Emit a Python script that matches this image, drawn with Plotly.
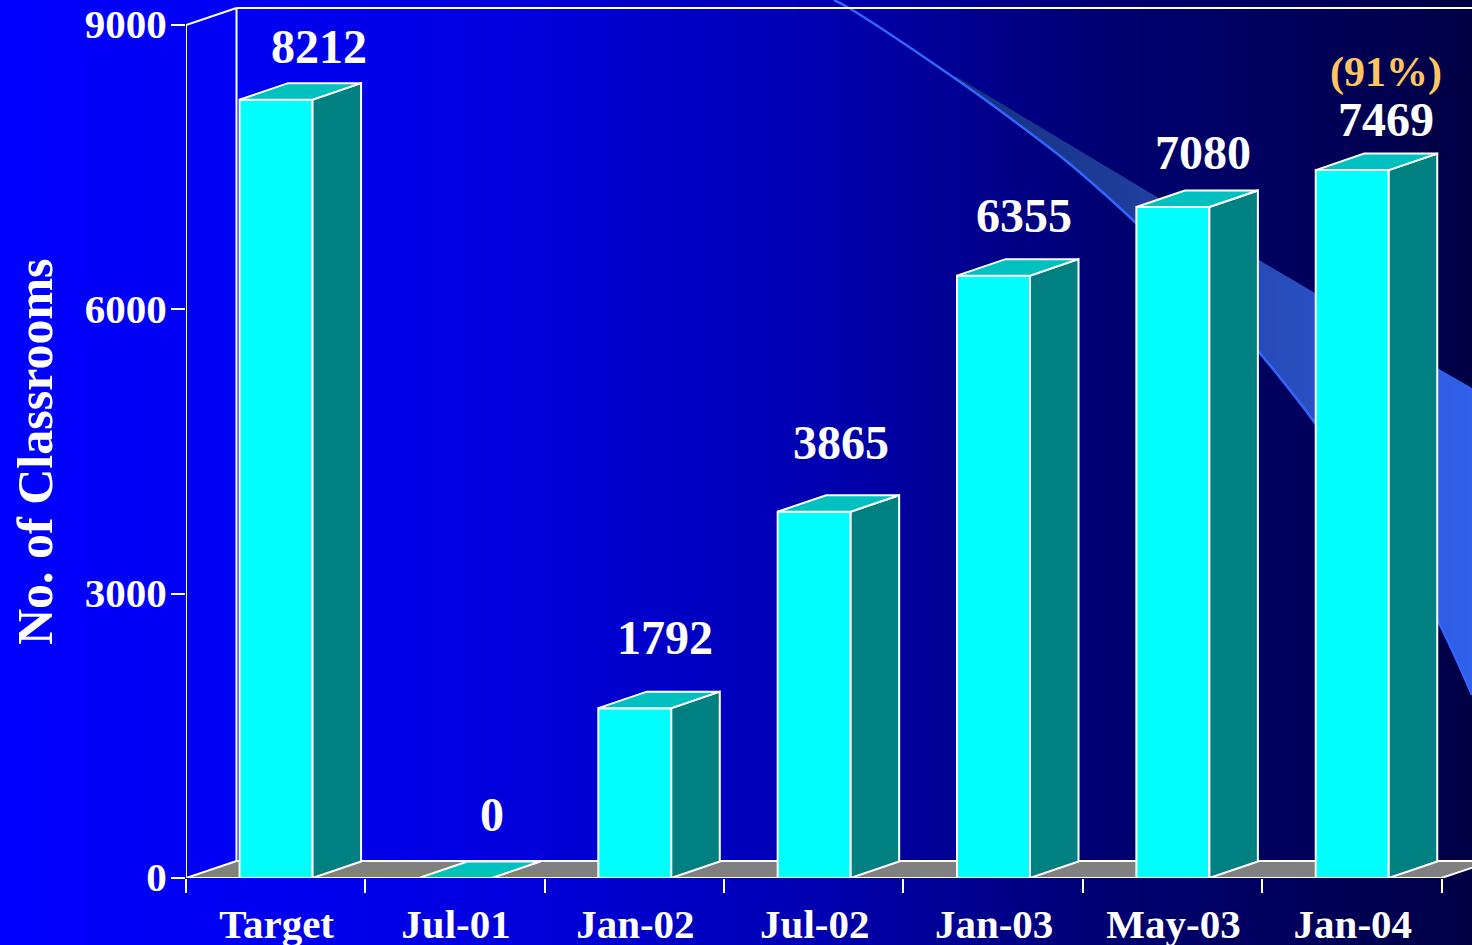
import plotly.graph_objects as go

categories = ["Target", "Jul-01", "Jan-02", "Jul-02", "Jan-03", "May-03", "Jan-04"]
classrooms = [8212, 0, 1792, 3865, 6355, 7080, 7469]
y_ticks = [0, 3000, 6000, 9000]
note_text = "(91%)"
axis_title = "No. of Classrooms"

W, H = 1472, 945
AX_L, AX_B = 186, 878
PX_PER_CAT = 179.36
PX_PER_VAL = 0.09478
FONT = "Liberation Serif"
CYAN, TEAL, TOPC, GREY = "#00FFFF", "#008080", "#00C0C0", "#808080"
BAR_W = 73 / PX_PER_CAT
BAR_SHIFT = 0.4 / PX_PER_CAT
BDX, BDY = 48.5 / PX_PER_CAT, 16.5 / PX_PER_VAL
WDX, WDY = 50.5 / PX_PER_CAT, 17 / PX_PER_VAL
label_dx = [43, 37, 31, 27, 31, 31, 34]
label_dy = [53, 64, 71, 69, 60, 54, 51]

bg_stops = [(0, 0, 255), (250, 0, 242), (500, 0, 222), (820, 0, 176), (1100, 0, 114), (1300, 0, 92), (1472, 0, 68)]
bg_scale = [[s[0] / W, f"rgb(0,{s[1]},{s[2]})"] for s in bg_stops]

sw_lower_x = [834, 849, 953, 1010, 1065, 1100, 1136, 1200, 1259, 1315, 1380, 1439, 1472]
sw_lower_y = [0, 8, 77, 118, 160, 190, 223, 285, 352, 423, 518, 623, 695]
sw_upper_x = [957, 1157, 1259, 1315, 1439, 1472]
sw_upper_y = [77, 197, 260, 293, 369, 388]

fig = go.Figure()

# page background and the decorative swoosh, on a full-page pixel axis pair
fig.add_trace(go.Heatmap(x=[0, W], y=[0, H], z=[[0, W], [0, W]], colorscale=bg_scale, zsmooth="best",
                         zmin=0, zmax=W, showscale=False, hoverinfo="skip", xaxis="x", yaxis="y"))
rib_x = sw_upper_x + sw_lower_x[::-1][:-2]
rib_y = sw_upper_y + sw_lower_y[::-1][:-2]
fig.add_trace(go.Scatter(x=rib_x, y=rib_y, mode="lines", line=dict(width=0), fill="toself",
                         fillgradient=dict(type="horizontal",
                                           colorscale=[[0, "#14307F"], [0.4, "#2040A0"], [0.7, "#2A50C4"], [1, "#3060EC"]]),
                         hoverinfo="skip", showlegend=False, xaxis="x", yaxis="y"))
fig.add_trace(go.Scatter(x=sw_lower_x, y=sw_lower_y, mode="lines", line=dict(color="#3366FF", width=2.5, shape="spline"),
                         hoverinfo="skip", showlegend=False, xaxis="x", yaxis="y"))

# front faces
xs = list(range(len(categories)))
fig.add_trace(go.Bar(x=[k + BAR_SHIFT for k in xs], y=classrooms, width=BAR_W,
                     marker=dict(color=CYAN, line=dict(color="white", width=2)),
                     hoverinfo="skip", showlegend=False, xaxis="x2", yaxis="y2"))

# side and top faces derive from each value
for k, v in zip(xs, classrooms):
    r = k + BAR_SHIFT + BAR_W / 2
    l = k + BAR_SHIFT - BAR_W / 2
    if v > 0:
        fig.add_trace(go.Scatter(x=[r, r + BDX, r + BDX, r, r], y=[0, BDY, v + BDY, v, 0], mode="lines", fill="toself",
                                 fillcolor=TEAL, line=dict(color="white", width=2), hoverinfo="skip",
                                 showlegend=False, xaxis="x2", yaxis="y2"))
    fig.add_trace(go.Scatter(x=[l, l + BDX, r + BDX, r, l], y=[v, v + BDY, v + BDY, v, v], mode="lines", fill="toself",
                             fillcolor=TOPC, line=dict(color="white", width=2), hoverinfo="skip",
                             showlegend=False, xaxis="x2", yaxis="y2"))

n = len(categories)
x_left, x_right = -0.5, n - 0.5
wline = dict(color="white", width=2)
shapes = [
    dict(type="path", xref="x2", yref="y2", layer="below", fillcolor=GREY, line=dict(width=0),
         path=f"M {x_left},0 L {x_left + WDX},{WDY} L {x_right + WDX},{WDY} L {x_right},0 Z"),
]
for x0, y0, x1, y1 in [
    (x_left, 0, x_left, 9000),
    (x_left, 9000, x_left + WDX, 9000 + WDY),
    (x_left + WDX, WDY, x_left + WDX, 9000 + WDY),
    (x_left + WDX, 9000 + WDY, x_right + WDX, 9000 + WDY),
    (x_left + WDX, WDY, x_right + WDX, WDY),
    (x_left, 0, x_left + WDX, WDY),
    (x_right, 0, x_right + WDX, WDY),
    (x_left, 0, x_right, 0),
]:
    shapes.append(dict(type="line", xref="x2", yref="y2", layer="below", x0=x0, y0=y0, x1=x1, y1=y1, line=wline))

annotations = []
for k, v, dx, dy in zip(xs, classrooms, label_dx, label_dy):
    annotations.append(dict(x=k, y=v, xref="x2", yref="y2", text=str(v), showarrow=False, xshift=dx, yshift=dy,
                            xanchor="center", yanchor="middle",
                            font=dict(family=FONT, size=48, color="white", weight="bold")))
annotations.append(dict(x=xs[-1], y=classrooms[-1], xref="x2", yref="y2", text=note_text, showarrow=False,
                        xshift=34, yshift=98, xanchor="center", yanchor="middle",
                        font=dict(family=FONT, size=42, color="#FFC561", weight="bold")))
annotations.append(dict(x=35 / W, y=1 - 452 / H, xref="paper", yref="paper", text=axis_title, showarrow=False,
                        textangle=-90, xanchor="center", yanchor="middle",
                        font=dict(family=FONT, size=50, color="white", weight="bold")))

fig.update_layout(
    width=W, height=H, margin=dict(l=0, r=0, t=0, b=0, pad=0, autoexpand=False), showlegend=False, paper_bgcolor="#0000C0",
    plot_bgcolor="rgba(0,0,0,0)", barmode="overlay", shapes=shapes, annotations=annotations,
    xaxis=dict(domain=[0, 1], range=[0, W], visible=False, fixedrange=True),
    yaxis=dict(domain=[0, 1], range=[H, 0], visible=False, fixedrange=True),
    xaxis2=dict(domain=[AX_L / W, 1], range=[-0.5, -0.5 + (W - AX_L) / PX_PER_CAT], anchor="y2",
                tickmode="array", tickvals=xs, ticktext=categories, ticks="", showgrid=False, zeroline=False,
                showline=False, ticklabelstandoff=18, ticklabelshift=1,
                tickfont=dict(family=FONT, size=41, color="white", weight="bold"),
                minor=dict(tickmode="array", tickvals=[i - 0.5 for i in range(n + 1)], ticks="outside", ticklen=14,
                           tickwidth=2, tickcolor="white", showgrid=False)),
    yaxis2=dict(domain=[(H - AX_B) / H, 1], range=[0, AX_B / PX_PER_VAL], anchor="x2",
                tickmode="array", tickvals=y_ticks, ticks="outside", ticklen=14, tickwidth=2, tickcolor="white",
                showgrid=False, zeroline=False, showline=False, ticklabelstandoff=-4, ticklabelshift=-1,
                tickfont=dict(family=FONT, size=41, color="white", weight="bold")),
)
fig.write_html("out.html", config=dict(displayModeBar=False),
               post_script="document.documentElement.style.overflow='hidden';document.body.style.margin='0';document.body.style.overflow='hidden';")
